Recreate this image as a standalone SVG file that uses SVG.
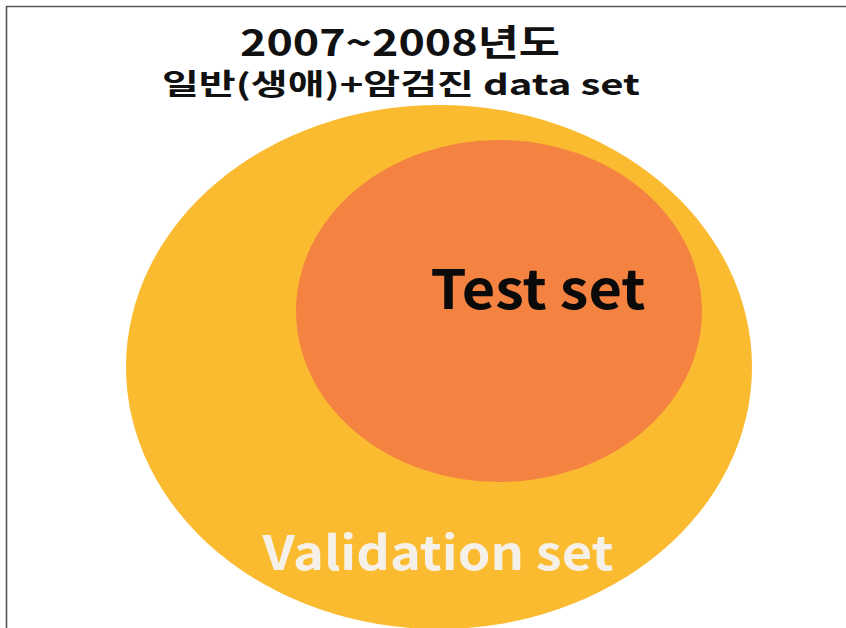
<svg xmlns="http://www.w3.org/2000/svg" width="846" height="628" viewBox="0 0 846 628">
<style>
.t{font-family:"Noto Sans CJK KR","Noto Sans",sans-serif;font-weight:bold;text-anchor:middle}
</style>
<rect width="846" height="628" fill="#ffffff"/>
<path d="M6.5,628 V6.5 H846" fill="none" stroke="#555555" stroke-width="1.6"/>
<g id="title">
<text class="t" x="400" y="56" font-size="36" fill="#111111" textLength="320" lengthAdjust="spacingAndGlyphs">2007~2008년도</text>
<text class="t" x="401" y="95" font-size="29" fill="#111111" textLength="478" lengthAdjust="spacingAndGlyphs">일반(생애)+암검진 data set</text>
</g>
<g id="validation">
<ellipse cx="439" cy="367" rx="313" ry="262" fill="#FBBB30"/>
<text class="t" x="438" y="570" font-size="47" fill="#F6F1E8" textLength="351" lengthAdjust="spacingAndGlyphs">Validation set</text>
</g>
<g id="test">
<ellipse cx="499" cy="311" rx="203" ry="171" fill="#F48241"/>
<text class="t" x="538" y="309" font-size="54" fill="#0a0a0a" textLength="215" lengthAdjust="spacingAndGlyphs">Test set</text>
</g>
<g id="connectors"></g>
</svg>
